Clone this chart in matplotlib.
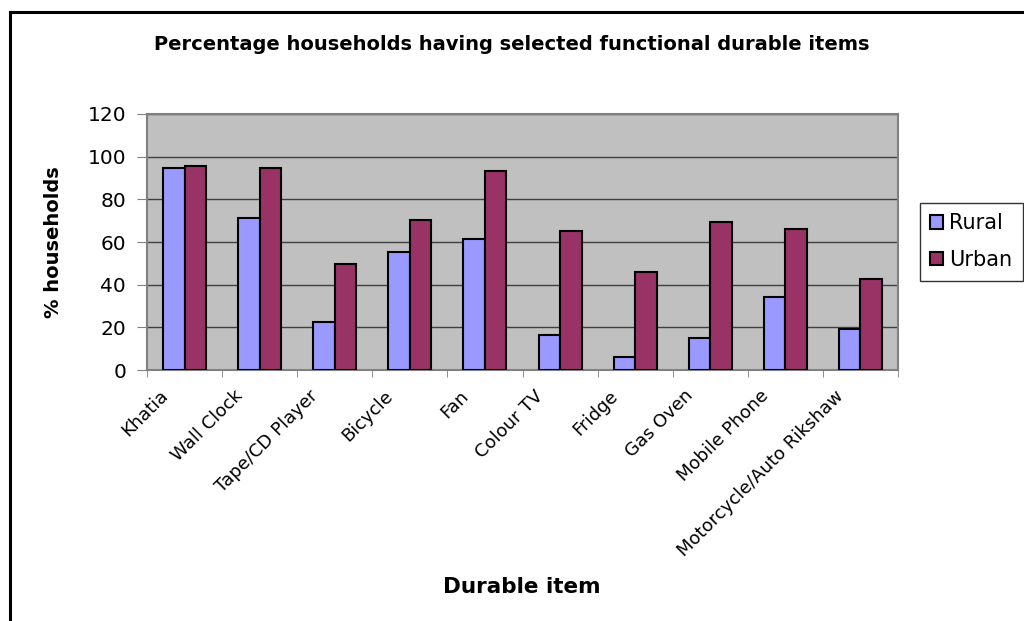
import matplotlib
matplotlib.use("Agg")
import matplotlib.pyplot as plt
import numpy as np
from matplotlib.lines import Line2D
from matplotlib.transforms import ScaledTranslation

items = ["Khatia", "Wall Clock", "Tape/CD Player", "Bicycle", "Fan",
         "Colour TV", "Fridge", "Gas Oven", "Mobile Phone",
         "Motorcycle/Auto Rikshaw"]
rural = [94.6, 71.4, 22.6, 55.2, 61.3, 16.5, 5.9, 15.0, 34.4, 19.4]
urban = [95.6, 94.6, 49.5, 70.5, 93.1, 65.3, 46.1, 69.5, 66.2, 42.7]
yticks = [0, 20, 40, 60, 80, 100, 120]

plt.rcParams["font.family"] = "DejaVu Sans"

fig = plt.figure(figsize=(10.24, 6.21), dpi=100)
ax = fig.add_axes([147/1024, 1 - 370/621, (898 - 147)/1024, (370 - 114)/621])

x = np.arange(len(items))
w = 1 / 3.5
ax.bar(x - w/2, rural, w, color="#9999FF", edgecolor="black", linewidth=1.5,
       label="Rural", zorder=3)
ax.bar(x + w/2, urban, w, color="#993366", edgecolor="black", linewidth=1.5,
       label="Urban", zorder=3)

ax.set_facecolor("#C0C0C0")
ax.set_xlim(-0.5, len(items) - 0.5)
ax.set_ylim(0, 120)
ax.set_yticks(yticks)
ax.tick_params(axis="y", labelsize=14.5, length=7, color="#808080", pad=8)
ax.yaxis.grid(True, color="#404040", linewidth=1.0, zorder=1)

ax.set_xticks(x)
ax.set_xticklabels(items, rotation=45, ha="right", rotation_mode="anchor",
                   fontsize=13)
ax.tick_params(axis="x", length=0, pad=12)
shift = ScaledTranslation(-26/100, 0, fig.dpi_scale_trans)
for lab in ax.get_xticklabels():
    lab.set_transform(lab.get_transform() + shift)
ax.set_xticks(np.arange(-0.5, len(items)), minor=True)
ax.tick_params(axis="x", which="minor", length=5, color="#808080")

for s in ax.spines.values():
    s.set_color("#808080")
    s.set_linewidth(1.5)

ax.set_ylabel("% households", fontsize=14, fontweight="bold", labelpad=18)
fig.text(522/1024, 1 - 587/621, "Durable item", fontsize=15.5,
         fontweight="bold", ha="center", va="center")
fig.text(512/1024, 1 - 44/621,
         "Percentage households having selected functional durable items",
         fontsize=14, fontweight="bold", ha="center", va="center")

ax.legend(loc="upper left", bbox_to_anchor=(920/1024, 1 - 203/621),
          bbox_transform=fig.transFigure, fontsize=15, frameon=True,
          fancybox=False, edgecolor="black", handlelength=0.6,
          handleheight=0.6, handletextpad=0.3, borderpad=0.5,
          labelspacing=0.8, borderaxespad=0)

# outer frame (left and top edges)
fig.add_artist(Line2D([10/1024, 10/1024], [0, 1 - 12/621], color="black",
                      linewidth=2.2, transform=fig.transFigure))
fig.add_artist(Line2D([10/1024, 1], [1 - 12/621, 1 - 12/621], color="black",
                      linewidth=2.2, transform=fig.transFigure))

fig.savefig("out.png", dpi=100)
